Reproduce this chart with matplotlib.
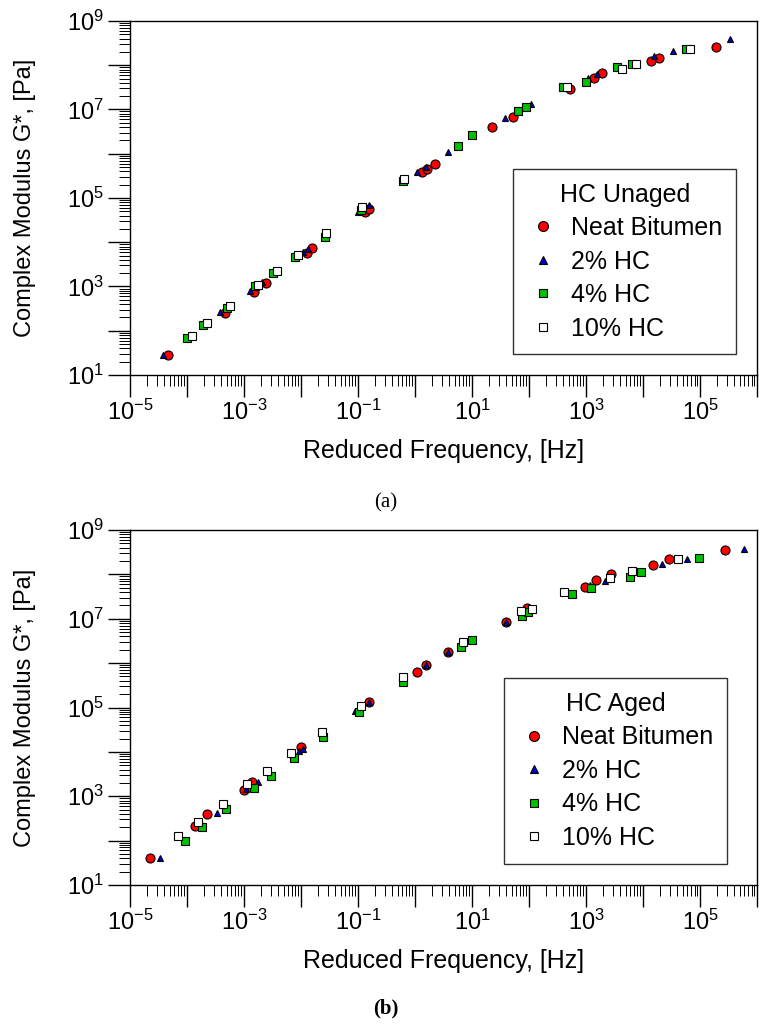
import numpy as np
import matplotlib
matplotlib.use("Agg")
import matplotlib.pyplot as plt
from matplotlib.ticker import FixedLocator, FuncFormatter, LogLocator, NullFormatter

plt.rcParams['font.family'] = ['Liberation Sans', 'DejaVu Sans']
plt.rcParams['mathtext.fontset'] = 'custom'
plt.rcParams['mathtext.rm'] = 'Liberation Sans'
plt.rcParams['mathtext.it'] = 'Liberation Sans'

series_names = ["Neat Bitumen", "2% HC", "4% HC", "10% HC"]

# ---- (a) HC Unaged ----
a_neat_f = [4.7e-5, 4.6e-4, 1.52e-3, 2.4e-3, 1.26e-2, 1.54e-2, 0.133, 0.158, 1.31, 1.6, 2.24,
            22.7, 51.8, 524, 1400, 1930, 1.38e4, 1.93e4, 1.91e5]
a_neat_g = [28, 248, 764, 1220, 5600, 7300, 4.9e4, 5.6e4, 3.8e5, 4.5e5, 5.8e5,
            4.0e6, 6.9e6, 2.9e7, 5.1e7, 6.6e7, 1.27e8, 1.48e8, 2.55e8]
a_hc2_f = [3.8e-5, 3.8e-4, 1.27e-3, 2.05e-3, 1.07e-2, 1.34e-2, 0.099, 0.156, 1.10, 1.56, 3.8,
           38, 108, 1100, 1540, 1.56e4, 3.3e4, 3.3e5]
a_hc2_g = [29, 270, 790, 1240, 6100, 6900, 4.9e4, 6.9e4, 3.8e5, 5.1e5, 1.1e6,
           6.3e6, 1.33e7, 5.1e7, 6.2e7, 1.62e8, 2.1e8, 3.9e8]
a_hc4_f = [9.9e-5, 1.93e-4, 5.1e-4, 1.56e-3, 3.2e-3, 7.9e-3, 2.64e-2, 0.113, 0.62, 5.6, 9.9,
           65, 88, 400, 990, 3460, 6300, 5.6e4]
a_hc4_g = [70, 135, 332, 1030, 2050, 4700, 1.33e4, 5.4e4, 2.46e5, 1.5e6, 2.65e6,
           9.4e6, 1.12e7, 3.2e7, 4.2e7, 9.0e7, 1.05e8, 2.33e8]
a_hc10_f = [1.21e-4, 2.27e-4, 5.7e-4, 1.78e-3, 3.75e-3, 8.8e-3, 2.75e-2, 0.116, 0.64, 465,
            4340, 7530, 6.7e4]
a_hc10_g = [77, 147, 362, 1080, 2280, 5150, 1.59e4, 6.2e4, 2.7e5, 3.2e7,
            8.2e7, 1.05e8, 2.29e8]

# ---- (b) HC Aged ----
b_neat_f = [2.25e-5, 1.38e-4, 2.27e-4, 1.0e-3, 1.36e-3, 1.0e-2, 0.158, 1.07, 1.56, 3.75,
            39, 93, 960, 1500, 2750, 1.52e4, 2.8e4, 2.75e5]
b_neat_g = [40, 214, 392, 1380, 2060, 1.31e4, 1.31e5, 6.4e5, 9.1e5, 1.75e6,
            8.3e6, 1.72e7, 5.1e7, 7.5e7, 1.0e8, 1.63e8, 2.22e8, 3.54e8]
b_hc2_f = [3.36e-5, 3.3e-4, 1.08e-3, 1.78e-3, 9.2e-3, 1.1e-2, 8.9e-2, 0.158, 1.56, 3.75,
           39, 119, 1170, 2150, 2.18e4, 5.8e4, 5.9e5]
b_hc2_g = [41, 413, 1460, 2130, 1.05e4, 1.14e4, 8.3e4, 1.3e5, 9.1e5, 1.75e6,
           8.3e6, 1.72e7, 5.8e7, 7.1e7, 1.69e8, 2.22e8, 3.67e8]
b_hc4_f = [9.2e-5, 1.85e-4, 4.8e-4, 1.5e-3, 2.98e-3, 7.4e-3, 2.46e-2, 0.105, 0.62, 6.3,
           10.1, 74, 97, 575, 1210, 5900, 9200, 9.7e4]
b_hc4_g = [98, 206, 508, 1510, 2900, 7200, 2.13e4, 8.0e4, 3.7e5, 2.27e6,
           3.3e6, 1.15e7, 1.4e7, 3.6e7, 4.85e7, 8.9e7, 1.15e8, 2.38e8]
b_hc10_f = [7.0e-5, 1.58e-4, 4.2e-4, 1.11e-3, 2.5e-3, 6.7e-3, 2.3e-2, 0.113, 0.62, 6.9,
            71, 111, 411, 2640, 6500, 4.1e4]
b_hc10_g = [129, 267, 660, 1860, 3770, 9300, 2.85e4, 1.08e5, 4.9e5, 2.95e6,
            1.52e7, 1.63e7, 3.95e7, 8.1e7, 1.19e8, 2.22e8]

styles = [dict(marker='o', color='#ff0000', ms=6.5),
          dict(marker='^', color='#0000cc', ms=5),
          dict(marker='s', color='#00c000', ms=5.5),
          dict(marker='s', color='white', ms=5.5)]


def odd_label(v, pos):
    e = int(round(np.log10(v)))
    if e % 2 == 0:
        return ""
    return r"$10^{%d}$" % e


def setup_axis(ax, title, legend_xy, data):
    for (f, g), name, st in zip(data, series_names, styles):
        ax.plot(f, g, linestyle='none', marker=st['marker'], markersize=st['ms'],
                markerfacecolor=st['color'], markeredgecolor='black',
                markeredgewidth=0.8, label=name)
    ax.set_xscale('log')
    ax.set_yscale('log')
    ax.set_xlim(1e-5, 1e6)
    ax.set_ylim(1e1, 1e9)
    ax.xaxis.set_major_locator(FixedLocator([10.0 ** e for e in range(-5, 7)]))
    ax.yaxis.set_major_locator(FixedLocator([10.0 ** e for e in range(1, 10)]))
    ax.xaxis.set_minor_locator(LogLocator(base=10, subs=np.arange(2, 10), numticks=200))
    ax.yaxis.set_minor_locator(LogLocator(base=10, subs=np.arange(2, 10), numticks=200))
    ax.xaxis.set_minor_formatter(NullFormatter())
    ax.yaxis.set_minor_formatter(NullFormatter())
    ax.xaxis.set_major_formatter(FuncFormatter(odd_label))
    ax.yaxis.set_major_formatter(FuncFormatter(odd_label))
    ax.tick_params(which='major', direction='out', length=16, width=1, labelsize=17,
                   top=False, right=False)
    ax.tick_params(axis='x', which='major', pad=2)
    ax.tick_params(axis='y', which='major', pad=3)
    ax.tick_params(which='minor', direction='out', length=8, width=0.7,
                   top=False, right=False)
    for s in ax.spines.values():
        s.set_linewidth(1)
    ax.set_xlabel("Reduced Frequency, [Hz]", fontsize=18, labelpad=10)
    ax.set_ylabel("Complex Modulus G*, [Pa]", fontsize=17, labelpad=22)
    leg = ax.legend(title=title, loc='upper left', bbox_to_anchor=legend_xy,
                    borderaxespad=0, fontsize=18, title_fontsize=18, frameon=True,
                    fancybox=False, edgecolor='black', handlelength=1.3,
                    handletextpad=0.48, borderpad=0.55, labelspacing=0.38,
                    markerscale=1.1)
    leg.get_frame().set_linewidth(1)


fig = plt.figure(figsize=(7.77, 10.33), dpi=100)
ax1 = fig.add_axes([0.1673, 0.637, 0.8070, 0.3427])
ax2 = fig.add_axes([0.1673, 0.1433, 0.8070, 0.3436])

setup_axis(ax1, "HC Unaged", (0.611, 0.582),
           [(a_neat_f, a_neat_g), (a_hc2_f, a_hc2_g), (a_hc4_f, a_hc4_g), (a_hc10_f, a_hc10_g)])
setup_axis(ax2, "HC Aged", (0.596, 0.583),
           [(b_neat_f, b_neat_g), (b_hc2_f, b_hc2_g), (b_hc4_f, b_hc4_g), (b_hc10_f, b_hc10_g)])

fig.text(0.496, 1 - 503 / 1033, "(a)", ha='center', va='center', fontsize=15,
         family=['Liberation Serif', 'DejaVu Serif'])
fig.text(0.496, 1 - 1008 / 1033, "(b)", ha='center', va='center', fontsize=15,
         family=['Liberation Serif', 'DejaVu Serif'], weight='bold')

fig.savefig("out.png", dpi=100)
